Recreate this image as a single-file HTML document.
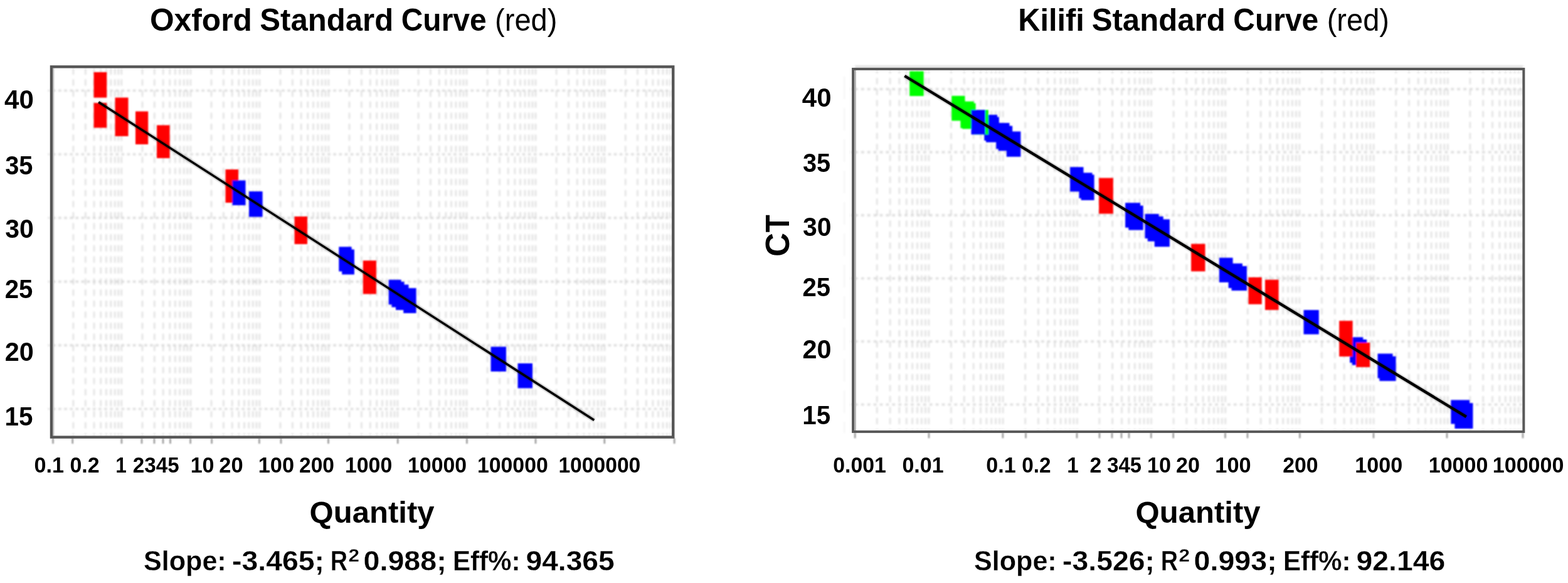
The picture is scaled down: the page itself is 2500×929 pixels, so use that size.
<!DOCTYPE html>
<html lang="en"><head><meta charset="utf-8"><title>Standard curves</title>
<style>
html,body{margin:0;padding:0;background:#fff;}
body{width:2500px;height:929px;overflow:hidden;}
svg{display:block;}
text{font-family:"Liberation Sans",sans-serif;fill:#000;}
.b{font-weight:bold;}
</style></head><body>
<svg width="2500" height="929" viewBox="0 0 2500 929">
<defs>
<filter id="blt" x="-5%" y="-30%" width="110%" height="160%"><feGaussianBlur stdDeviation="0.45"/></filter>
<filter id="blh" x="-5%" y="-5%" width="110%" height="110%"><feGaussianBlur stdDeviation="1.3"/></filter>
<filter id="blg" x="-2%" y="-2%" width="104%" height="104%"><feGaussianBlur stdDeviation="1.6"/></filter>
<filter id="bl" x="-2%" y="-2%" width="104%" height="104%"><feGaussianBlur stdDeviation="0.9"/></filter>
<filter id="bl2" x="-2%" y="-2%" width="104%" height="104%"><feGaussianBlur stdDeviation="0.5"/></filter>
</defs>
<rect x="0" y="0" width="2500" height="929" fill="#fff"/>
<clipPath id="cpL"><rect x="84.15" y="108.60" width="986.90" height="585.80"/></clipPath>
<g filter="url(#blg)">
<rect x="67.95" y="92.4" width="1019.3" height="624.2" fill="#fff"/>
<g clip-path="url(#cpL)">
<path d="M116.9 108.9V694.4M136.3 108.9V694.4M150.0 108.9V694.4M160.7 108.9V694.4M169.4 108.9V694.4M176.8 108.9V694.4M183.2 108.9V694.4M188.8 108.9V694.4M193.8 108.9V694.4M227.0 108.9V694.4M246.3 108.9V694.4M260.1 108.9V694.4M270.7 108.9V694.4M279.4 108.9V694.4M286.8 108.9V694.4M293.2 108.9V694.4M298.8 108.9V694.4M303.9 108.9V694.4M337.0 108.9V694.4M356.4 108.9V694.4M370.1 108.9V694.4M380.8 108.9V694.4M389.5 108.9V694.4M396.8 108.9V694.4M403.2 108.9V694.4M408.9 108.9V694.4M413.9 108.9V694.4M447.0 108.9V694.4M466.4 108.9V694.4M480.1 108.9V694.4M490.8 108.9V694.4M499.5 108.9V694.4M506.9 108.9V694.4M513.3 108.9V694.4M518.9 108.9V694.4M523.9 108.9V694.4M557.0 108.9V694.4M576.4 108.9V694.4M590.2 108.9V694.4M600.8 108.9V694.4M609.5 108.9V694.4M616.9 108.9V694.4M623.3 108.9V694.4M628.9 108.9V694.4M633.9 108.9V694.4M667.1 108.9V694.4M686.4 108.9V694.4M700.2 108.9V694.4M710.9 108.9V694.4M719.6 108.9V694.4M726.9 108.9V694.4M733.3 108.9V694.4M738.9 108.9V694.4M744.0 108.9V694.4M777.1 108.9V694.4M796.5 108.9V694.4M810.2 108.9V694.4M820.9 108.9V694.4M829.6 108.9V694.4M837.0 108.9V694.4M843.3 108.9V694.4M849.0 108.9V694.4M854.0 108.9V694.4M887.1 108.9V694.4M906.5 108.9V694.4M920.3 108.9V694.4M930.9 108.9V694.4M939.6 108.9V694.4M947.0 108.9V694.4M953.4 108.9V694.4M959.0 108.9V694.4M964.0 108.9V694.4M997.2 108.9V694.4M1016.5 108.9V694.4M1030.3 108.9V694.4M1040.9 108.9V694.4M1049.7 108.9V694.4M1057.0 108.9V694.4M1063.4 108.9V694.4M1069.0 108.9V694.4" fill="none" stroke="#dddddd" stroke-width="2.4" stroke-dasharray="10 7.62"/>
</g>
<clipPath id="chL"><rect x="76.8" y="106.4" width="994.25" height="590.20"/></clipPath>
<path clip-path="url(#chL)" d="M74.9 144.4H1071.0M74.9 245.9H1071.0M74.9 347.3H1071.0M74.9 448.8H1071.0M74.9 550.3H1071.0M74.9 651.6H1071.0" fill="none" stroke="#d8d8d8" stroke-width="3.4" stroke-dasharray="4.5 4.63"/>
</g>
<g filter="url(#bl)">
<rect x="149.5" y="115" width="20.7" height="40.6" fill="#ff0000"/>
<rect x="149.5" y="164" width="20.7" height="39.6" fill="#ff0000"/>
<rect x="183.5" y="155.5" width="21.0" height="61.5" fill="#ff0000"/>
<rect x="216" y="177.5" width="20.2" height="52.5" fill="#ff0000"/>
<rect x="250" y="199.5" width="20.6" height="52.5" fill="#ff0000"/>
<rect x="359.5" y="270" width="20.5" height="53.0" fill="#ff0000"/>
<rect x="370.5" y="287.5" width="21.0" height="39.5" fill="#0000ff"/>
<rect x="397" y="305" width="21.6" height="40.6" fill="#0000ff"/>
<rect x="469.5" y="345" width="20.5" height="44.0" fill="#ff0000"/>
<rect x="540.3" y="393.3" width="20.3" height="39.2" fill="#0000ff"/>
<rect x="545.2" y="397.5" width="19.7" height="39.9" fill="#0000ff"/>
<rect x="578.8" y="415.2" width="21.1" height="53.3" fill="#ff0000"/>
<rect x="619.7" y="445.8" width="20.0" height="39.5" fill="#0000ff"/>
<rect x="624.5" y="449" width="20.0" height="40.5" fill="#0000ff"/>
<rect x="631" y="453.5" width="20.5" height="40.5" fill="#0000ff"/>
<rect x="643.2" y="459.1" width="20.4" height="39.9" fill="#0000ff"/>
<rect x="782.5" y="552.5" width="24.5" height="39.5" fill="#0000ff"/>
<rect x="825.5" y="579" width="23.5" height="39.6" fill="#0000ff"/>
<path d="M84.5 698.3v8.8M115.7 698.3v8.8M193.9 698.3v8.8M226.0 698.3v8.8M246.0 698.3v8.8M260.0 698.3v8.8M271.5 698.3v8.8M303.6 698.3v8.8M337.6 698.3v8.8M413.4 698.3v8.8M448.0 698.3v8.8M523.5 698.3v8.8M634.2 698.3v8.8M744.4 698.3v8.8M854.0 698.3v8.8M963.8 698.3v8.8M1075.2 698.3v8.8" fill="none" stroke="#9a9a9a" stroke-width="2.6"/>
</g>
<g filter="url(#bl2)">
<path d="M85.3 108.6V694.4" fill="none" stroke="#bdbdbd" stroke-width="2"/>
<rect x="81.95" y="106.4" width="991.30" height="590.20" fill="none" stroke="#555" stroke-width="4.4"/>
</g>
<line x1="157.2" y1="162.7" x2="947.3" y2="669.5" stroke="#000" stroke-opacity="0.33" stroke-width="5.8" filter="url(#blh)"/>
<line x1="157.2" y1="162.7" x2="947.3" y2="669.5" stroke="#000" stroke-width="3.4"/>
<clipPath id="cpR"><rect x="1362.10" y="112.00" width="1065.25" height="573.90"/></clipPath>
<g filter="url(#blg)">
<rect x="1346.1" y="96.0" width="1097.25" height="611.9" fill="#fff"/>
<rect x="1363" y="104.4" width="1065.5" height="5" fill="#dedede"/>
<path d="M1346.3 122V690" fill="none" stroke="#efefef" stroke-width="1.6" stroke-dasharray="36 14"/>
<g clip-path="url(#cpR)">
<path d="M1398.3 106.9V685.9M1419.1 106.9V685.9M1433.9 106.9V685.9M1445.3 106.9V685.9M1454.7 106.9V685.9M1462.6 106.9V685.9M1469.4 106.9V685.9M1475.5 106.9V685.9M1480.9 106.9V685.9M1516.5 106.9V685.9M1537.3 106.9V685.9M1552.1 106.9V685.9M1563.5 106.9V685.9M1572.9 106.9V685.9M1580.8 106.9V685.9M1587.6 106.9V685.9M1593.7 106.9V685.9M1599.1 106.9V685.9M1634.7 106.9V685.9M1655.5 106.9V685.9M1670.3 106.9V685.9M1681.7 106.9V685.9M1691.1 106.9V685.9M1699.0 106.9V685.9M1705.8 106.9V685.9M1711.9 106.9V685.9M1717.3 106.9V685.9M1752.9 106.9V685.9M1773.7 106.9V685.9M1788.5 106.9V685.9M1799.9 106.9V685.9M1809.3 106.9V685.9M1817.2 106.9V685.9M1824.0 106.9V685.9M1830.1 106.9V685.9M1835.5 106.9V685.9M1871.1 106.9V685.9M1891.9 106.9V685.9M1906.7 106.9V685.9M1918.1 106.9V685.9M1927.5 106.9V685.9M1935.4 106.9V685.9M1942.2 106.9V685.9M1948.3 106.9V685.9M1953.7 106.9V685.9M1989.3 106.9V685.9M2010.1 106.9V685.9M2024.9 106.9V685.9M2036.3 106.9V685.9M2045.7 106.9V685.9M2053.6 106.9V685.9M2060.4 106.9V685.9M2066.5 106.9V685.9M2071.9 106.9V685.9M2107.5 106.9V685.9M2128.3 106.9V685.9M2143.1 106.9V685.9M2154.5 106.9V685.9M2163.9 106.9V685.9M2171.8 106.9V685.9M2178.6 106.9V685.9M2184.7 106.9V685.9M2190.1 106.9V685.9M2225.7 106.9V685.9M2246.5 106.9V685.9M2261.3 106.9V685.9M2272.7 106.9V685.9M2282.1 106.9V685.9M2290.0 106.9V685.9M2296.8 106.9V685.9M2302.9 106.9V685.9M2308.3 106.9V685.9M2343.9 106.9V685.9M2364.7 106.9V685.9M2379.5 106.9V685.9M2390.9 106.9V685.9M2400.3 106.9V685.9M2408.2 106.9V685.9M2415.0 106.9V685.9M2421.1 106.9V685.9M2426.5 106.9V685.9" fill="none" stroke="#dddddd" stroke-width="2.4" stroke-dasharray="10 7.47"/>
</g>
<clipPath id="chR"><rect x="1355.9" y="110.0" width="1071.45" height="577.90"/></clipPath>
<path clip-path="url(#chR)" d="M1353.2 142.0H2427.3M1353.2 242.5H2427.3M1353.2 343.0H2427.3M1353.2 443.6H2427.3M1353.2 544.1H2427.3M1353.2 644.6H2427.3" fill="none" stroke="#d8d8d8" stroke-width="3.4" stroke-dasharray="4.6 5.3"/>
</g>
<g filter="url(#bl)">
<rect x="1450.2" y="113.5" width="22.5" height="39.5" fill="#00ff00"/>
<rect x="1517.2" y="152.7" width="21.3" height="39.7" fill="#00ff00"/>
<rect x="1531.4" y="161.6" width="21.3" height="42.6" fill="#00ff00"/>
<rect x="1534.3" y="164.5" width="21.3" height="40.9" fill="#00ff00"/>
<rect x="1569.3" y="182.9" width="20.7" height="41.1" fill="#0000ff"/>
<rect x="1572" y="186.4" width="20.9" height="40.3" fill="#0000ff"/>
<rect x="1553.5" y="175.2" width="22.3" height="39.1" fill="#00ff00"/>
<rect x="1548.5" y="175.2" width="22.5" height="39.1" fill="#0000ff"/>
<rect x="1588.2" y="195.9" width="21.3" height="41.4" fill="#0000ff"/>
<rect x="1591.7" y="200.6" width="22.5" height="39.7" fill="#0000ff"/>
<rect x="1604.8" y="209.5" width="22.6" height="40.3" fill="#0000ff"/>
<rect x="1706.1" y="266.2" width="21.4" height="39.1" fill="#0000ff"/>
<rect x="1720.4" y="275.3" width="21.1" height="40.6" fill="#0000ff"/>
<rect x="1723.6" y="278.4" width="21.0" height="40.6" fill="#0000ff"/>
<rect x="1752.1" y="283.6" width="22.7" height="57.0" fill="#ff0000"/>
<rect x="1794.1" y="323.2" width="23.9" height="39.5" fill="#0000ff"/>
<rect x="1799.3" y="327.6" width="23.4" height="39.0" fill="#0000ff"/>
<rect x="1825.5" y="340.9" width="22.2" height="39.0" fill="#0000ff"/>
<rect x="1829.7" y="344.8" width="25.0" height="39.8" fill="#0000ff"/>
<rect x="1840.7" y="349.5" width="24.2" height="43.7" fill="#0000ff"/>
<rect x="1899.1" y="388.6" width="22.4" height="43.8" fill="#ff0000"/>
<rect x="1943.9" y="410.7" width="21.7" height="39.2" fill="#0000ff"/>
<rect x="1958.6" y="419.8" width="22.3" height="39.2" fill="#0000ff"/>
<rect x="1963.5" y="424" width="24.4" height="39.1" fill="#0000ff"/>
<rect x="1990.5" y="441.9" width="21.2" height="42.9" fill="#ff0000"/>
<rect x="2017" y="445.7" width="21.6" height="48.2" fill="#ff0000"/>
<rect x="2078.5" y="494" width="24.3" height="38.7" fill="#0000ff"/>
<rect x="2152.2" y="537.3" width="21.1" height="40.7" fill="#0000ff"/>
<rect x="2155.8" y="541" width="23.3" height="40.7" fill="#0000ff"/>
<rect x="2135.2" y="511.2" width="21.4" height="56.9" fill="#ff0000"/>
<rect x="2162.1" y="546" width="22.1" height="39.0" fill="#ff0000"/>
<rect x="2196.5" y="563.5" width="24.0" height="39.2" fill="#0000ff"/>
<rect x="2199.4" y="567.8" width="26.2" height="39.3" fill="#0000ff"/>
<rect x="2313.3" y="637.4" width="29.8" height="38.1" fill="#0000ff"/>
<rect x="2319.4" y="642.3" width="29.0" height="40.7" fill="#0000ff"/>
<path d="M1363.2 689.4v8.8M1481.0 689.4v8.8M1598.9 689.4v8.8M1635.5 689.4v8.8M1717.0 689.4v8.8M1753.0 689.4v8.8M1773.0 689.4v8.8M1788.0 689.4v8.8M1800.0 689.4v8.8M1835.3 689.4v8.8M1870.7 689.4v8.8M1953.5 689.4v8.8M1989.0 689.4v8.8M2072.4 689.4v8.8M2190.0 689.4v8.8M2307.0 689.4v8.8M2428.0 689.4v8.8" fill="none" stroke="#9a9a9a" stroke-width="2.6"/>
</g>
<g filter="url(#bl2)">
<path d="M1363.6 112V685.9" fill="none" stroke="#b4b4b4" stroke-width="2.8"/>
<rect x="1360.1" y="110.0" width="1069.25" height="577.90" fill="none" stroke="#585858" stroke-width="4.0"/>
</g>
<line x1="1442.4" y1="121.0" x2="2337.8" y2="664.1" stroke="#000" stroke-opacity="0.33" stroke-width="6.2" filter="url(#blh)"/>
<line x1="1442.4" y1="121.0" x2="2337.8" y2="664.1" stroke="#000" stroke-width="4.35"/>
<text font-size="50.6" class="b" filter="url(#blt)"><tspan x="238.91" y="48.80" textLength="162.96" lengthAdjust="spacingAndGlyphs">Oxford</tspan> <tspan x="414.37" y="48.80" textLength="212.76" lengthAdjust="spacingAndGlyphs">Standard</tspan> <tspan x="639.68" y="48.80" textLength="136.01" lengthAdjust="spacingAndGlyphs">Curve</tspan> <tspan x="789.08" y="48.80" textLength="99.35" lengthAdjust="spacingAndGlyphs" font-weight="normal" font-size="49.5">(red)</tspan></text>
<text font-size="50.6" class="b" filter="url(#blt)"><tspan x="1623.13" y="48.80" textLength="105.79" lengthAdjust="spacingAndGlyphs">Kilifi</tspan> <tspan x="1740.67" y="48.80" textLength="213.07" lengthAdjust="spacingAndGlyphs">Standard</tspan> <tspan x="1966.28" y="48.80" textLength="136.01" lengthAdjust="spacingAndGlyphs">Curve</tspan> <tspan x="2115.68" y="48.80" textLength="99.35" lengthAdjust="spacingAndGlyphs" font-weight="normal" font-size="49.5">(red)</tspan></text>
<text font-size="43.4" class="b" filter="url(#blt)"><tspan x="7.12" y="172.90" textLength="46.70" lengthAdjust="spacingAndGlyphs">40</tspan></text>
<text font-size="43.4" class="b" filter="url(#blt)"><tspan x="8.20" y="277.60" textLength="44.24" lengthAdjust="spacingAndGlyphs">35</tspan></text>
<text font-size="43.4" class="b" filter="url(#blt)"><tspan x="8.18" y="379.10" textLength="45.60" lengthAdjust="spacingAndGlyphs">30</tspan></text>
<text font-size="43.4" class="b" filter="url(#blt)"><tspan x="7.80" y="474.90" textLength="44.65" lengthAdjust="spacingAndGlyphs">25</tspan></text>
<text font-size="43.4" class="b" filter="url(#blt)"><tspan x="7.76" y="574.90" textLength="46.04" lengthAdjust="spacingAndGlyphs">20</tspan></text>
<text font-size="43.4" class="b" filter="url(#blt)"><tspan x="7.47" y="678.00" textLength="44.98" lengthAdjust="spacingAndGlyphs">15</tspan></text>
<text font-size="43.4" class="b" filter="url(#blt)"><tspan x="1278.82" y="169.80" textLength="46.70" lengthAdjust="spacingAndGlyphs">40</tspan></text>
<text font-size="43.4" class="b" filter="url(#blt)"><tspan x="1279.90" y="273.80" textLength="44.24" lengthAdjust="spacingAndGlyphs">35</tspan></text>
<text font-size="43.4" class="b" filter="url(#blt)"><tspan x="1279.88" y="375.80" textLength="45.60" lengthAdjust="spacingAndGlyphs">30</tspan></text>
<text font-size="43.4" class="b" filter="url(#blt)"><tspan x="1279.50" y="471.80" textLength="44.65" lengthAdjust="spacingAndGlyphs">25</tspan></text>
<text font-size="43.4" class="b" filter="url(#blt)"><tspan x="1279.46" y="571.30" textLength="46.04" lengthAdjust="spacingAndGlyphs">20</tspan></text>
<text font-size="43.4" class="b" filter="url(#blt)"><tspan x="1279.17" y="675.50" textLength="44.98" lengthAdjust="spacingAndGlyphs">15</tspan></text>
<text font-size="35.4" class="b" filter="url(#blt)"><tspan x="54.60" y="752.70" textLength="47.49" lengthAdjust="spacingAndGlyphs">0.1</tspan> <tspan x="111.51" y="752.70" textLength="47.11" lengthAdjust="spacingAndGlyphs">0.2</tspan> <tspan x="184.31" y="752.70" textLength="17.51" lengthAdjust="spacingAndGlyphs">1</tspan> <tspan x="211.80" y="752.70" textLength="73.86" lengthAdjust="spacingAndGlyphs">2345</tspan> <tspan x="303.66" y="752.70" textLength="37.87" lengthAdjust="spacingAndGlyphs">10</tspan> <tspan x="349.27" y="752.70" textLength="38.28" lengthAdjust="spacingAndGlyphs">20</tspan> <tspan x="411.74" y="752.70" textLength="57.30" lengthAdjust="spacingAndGlyphs">100</tspan> <tspan x="477.09" y="752.70" textLength="55.92" lengthAdjust="spacingAndGlyphs">200</tspan> <tspan x="549.97" y="752.70" textLength="75.25" lengthAdjust="spacingAndGlyphs">1000</tspan> <tspan x="650.07" y="752.70" textLength="93.95" lengthAdjust="spacingAndGlyphs">10000</tspan> <tspan x="760.97" y="752.70" textLength="112.75" lengthAdjust="spacingAndGlyphs">100000</tspan> <tspan x="890.38" y="752.70" textLength="130.93" lengthAdjust="spacingAndGlyphs">1000000</tspan></text>
<text font-size="35.4" class="b" filter="url(#blt)"><tspan x="1328.22" y="752.70" textLength="84.67" lengthAdjust="spacingAndGlyphs">0.001</tspan> <tspan x="1438.41" y="752.70" textLength="66.18" lengthAdjust="spacingAndGlyphs">0.01</tspan> <tspan x="1572.30" y="752.70" textLength="47.49" lengthAdjust="spacingAndGlyphs">0.1</tspan> <tspan x="1629.23" y="752.70" textLength="46.37" lengthAdjust="spacingAndGlyphs">0.2</tspan> <tspan x="1701.21" y="752.70" textLength="18.46" lengthAdjust="spacingAndGlyphs">1</tspan> <tspan x="1737.49" y="752.70" textLength="18.73" lengthAdjust="spacingAndGlyphs">2</tspan> <tspan x="1765.14" y="752.70" textLength="54.82" lengthAdjust="spacingAndGlyphs">345</tspan> <tspan x="1829.05" y="752.70" textLength="38.09" lengthAdjust="spacingAndGlyphs">10</tspan> <tspan x="1874.98" y="752.70" textLength="37.96" lengthAdjust="spacingAndGlyphs">20</tspan> <tspan x="1937.34" y="752.70" textLength="57.30" lengthAdjust="spacingAndGlyphs">100</tspan> <tspan x="2045.29" y="752.70" textLength="56.33" lengthAdjust="spacingAndGlyphs">200</tspan> <tspan x="2160.25" y="752.70" textLength="75.88" lengthAdjust="spacingAndGlyphs">1000</tspan> <tspan x="2277.76" y="752.70" textLength="94.57" lengthAdjust="spacingAndGlyphs">10000</tspan> <tspan x="2379.86" y="752.70" textLength="113.47" lengthAdjust="spacingAndGlyphs">100000</tspan></text>
<text font-size="48.4" class="b"><tspan x="493.54" y="832.50" textLength="199.02" lengthAdjust="spacingAndGlyphs">Quantity</tspan></text>
<text font-size="48.4" class="b"><tspan x="1810.54" y="832.70" textLength="199.12" lengthAdjust="spacingAndGlyphs">Quantity</tspan></text>
<text class="b" font-size="53.5" transform="translate(1257.6 406.8) rotate(-90)"><tspan x="-2.11" y="0" textLength="38.15" lengthAdjust="spacingAndGlyphs">C</tspan><tspan x="36.64" y="0" textLength="28.03" lengthAdjust="spacingAndGlyphs">T</tspan></text>
<text font-size="43.8" class="b" stroke="#fff" stroke-width="0.28" filter="url(#blt)"><tspan x="228.98" y="909.30" textLength="131.77" lengthAdjust="spacingAndGlyphs">Slope:</tspan> <tspan x="370.04" y="909.30" textLength="147.02" lengthAdjust="spacingAndGlyphs">-3.465;</tspan> <tspan x="526.79" y="909.30" textLength="27.40" lengthAdjust="spacingAndGlyphs">R</tspan><tspan x="555.51" y="895.40" textLength="17.57" lengthAdjust="spacingAndGlyphs" font-size="30.2">2</tspan> <tspan x="579.63" y="909.30" textLength="132.04" lengthAdjust="spacingAndGlyphs">0.988;</tspan> <tspan x="721.92" y="909.30" textLength="107.74" lengthAdjust="spacingAndGlyphs">Eff%:</tspan> <tspan x="838.47" y="909.30" textLength="141.27" lengthAdjust="spacingAndGlyphs">94.365</tspan></text>
<text font-size="43.8" class="b" stroke="#fff" stroke-width="0.28" filter="url(#blt)"><tspan x="1552.98" y="909.30" textLength="131.77" lengthAdjust="spacingAndGlyphs">Slope:</tspan> <tspan x="1694.04" y="909.30" textLength="147.02" lengthAdjust="spacingAndGlyphs">-3.526;</tspan> <tspan x="1850.79" y="909.30" textLength="27.40" lengthAdjust="spacingAndGlyphs">R</tspan><tspan x="1879.51" y="895.40" textLength="17.57" lengthAdjust="spacingAndGlyphs" font-size="30.2">2</tspan> <tspan x="1903.63" y="909.30" textLength="132.04" lengthAdjust="spacingAndGlyphs">0.993;</tspan> <tspan x="2045.92" y="909.30" textLength="107.74" lengthAdjust="spacingAndGlyphs">Eff%:</tspan> <tspan x="2162.47" y="909.30" textLength="141.75" lengthAdjust="spacingAndGlyphs">92.146</tspan></text>
</svg>
</body></html>
